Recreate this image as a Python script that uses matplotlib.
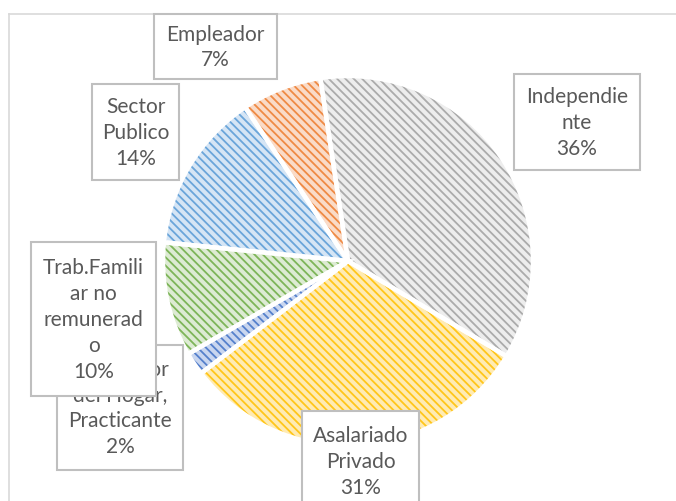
import matplotlib
matplotlib.use("Agg")
import matplotlib.pyplot as plt
from matplotlib.patches import Rectangle

# Data
categories = ["Independie\nnte", "Asalariado\nPrivado", "Trabajador\ndel Hogar,\nPracticante",
              "Trab.Famili\nar no\nremunerad\no", "Sector\nPublico", "Empleador"]
values = [36, 31, 2, 10, 14, 7]

# Office palette: stripe colour and light background tint
stripe_colors = ["#ABABAB", "#FFC61A", "#5580CC", "#7DB558", "#6AA5DA", "#EF8A44"]
tint_colors = ["#EDEDED", "#FFEBB3", "#C9D6EF", "#DDEBD3", "#D5E5F5", "#FADBC7"]

# label boxes in pixel coords (left, top, right, bottom), y measured from top
label_boxes = [(514, 75, 640, 171), (302, 412, 419, 512), (57, 346, 183, 471),
               (31, 243, 156, 397), (92, 85, 179, 181), (154, 15, 277, 80)]

W, H = 676, 502
plt.rcParams["hatch.linewidth"] = 1.3
fig = plt.figure(figsize=(W / 100, H / 100), dpi=100)
ax = fig.add_axes([0, 0, 1, 1])
ax.set_xlim(0, W)
ax.set_ylim(0, H)
ax.set_aspect("equal")
ax.axis("off")

# chart area border
ax.plot([9, W], [H - 15, H - 15], color="#D9D9D9", lw=1.2)
ax.plot([9, 9], [H - 15, 0], color="#D9D9D9", lw=1.2)

cx, cy, r = 348, H - 262, 185
start = 98.6

wedges, _ = ax.pie(values, center=(cx, cy), radius=r, startangle=start,
                   counterclock=False, colors=tint_colors, frame=True)
for w, sc in zip(wedges, stripe_colors):
    w.set_hatch("\\\\\\\\")
    w.set_edgecolor(sc)
    w.set_linewidth(0)

# white separators on top
sep, _ = ax.pie(values, center=(cx, cy), radius=r, startangle=start,
                counterclock=False, frame=True,
                wedgeprops=dict(facecolor="none", edgecolor="white", linewidth=3.2))

ax.set_xlim(0, W)
ax.set_ylim(0, H)
ax.axis("off")

total = sum(values)
for i, (name, v, box) in enumerate(zip(categories, values, label_boxes)):
    x0, t, x1, b = box
    rect = Rectangle((x0, H - b), x1 - x0, b - t, facecolor="white",
                     edgecolor="#BFBFBF", linewidth=1.5, zorder=10 + 2 * i)
    ax.add_patch(rect)
    txt = f"{name}\n{round(100 * v / total)}%"
    ax.text((x0 + x1) / 2, H - (t + b) / 2, txt, ha="center", va="center",
            multialignment="center", fontsize=15, family="Lato", color="#595959",
            linespacing=1.37, zorder=11 + 2 * i)

fig.savefig("out.png", dpi=100)
